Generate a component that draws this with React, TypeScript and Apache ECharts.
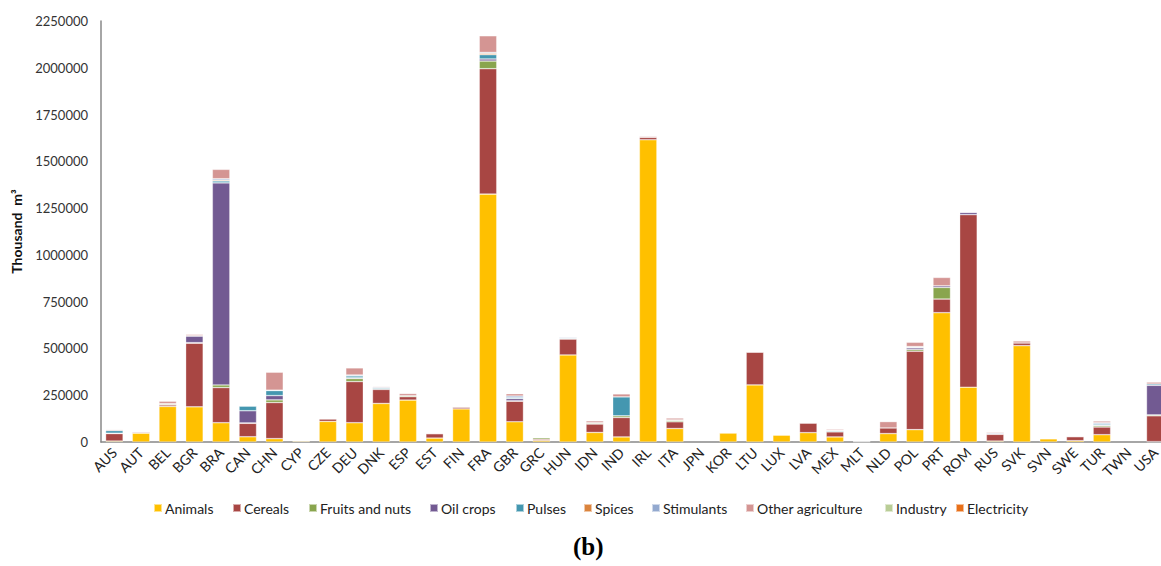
import React, { useEffect, useRef } from "react";
import * as echarts from "echarts";

const categories = ["AUS","AUT","BEL","BGR","BRA","CAN","CHN","CYP","CZE","DEU","DNK","ESP","EST","FIN","FRA","GBR","GRC","HUN","IDN","IND","IRL","ITA","JPN","KOR","LTU","LUX","LVA","MEX","MLT","NLD","POL","PRT","ROM","RUS","SVK","SVN","SWE","TUR","TWN","USA"];

const animals = [5000,47000,190000,188000,103000,28000,18000,5000,110000,103000,206000,224000,21000,177000,1325000,108000,8000,465000,51000,27000,1615000,72000,0,48000,305000,37000,50000,27000,2000,45000,66000,691000,293000,5000,515000,17000,7000,39000,0,2000];
const cereals = [40000,5000,8000,340000,188000,72000,193000,0,13000,220000,75000,18000,23000,9000,670000,110000,7000,85000,45000,104000,13000,36000,0,0,175000,0,51000,27000,0,30000,419000,73000,922000,36000,14000,2000,21000,41000,0,138000];
const fruits = [2000,0,5000,3000,14000,2000,14000,2000,0,16000,0,5000,0,0,41000,2000,8000,0,5000,9000,0,7000,0,0,0,0,0,0,0,0,9000,62000,0,0,0,0,0,7000,0,5000];
const oilCrops = [0,0,0,35000,1080000,65000,23000,0,0,4000,0,0,0,0,11000,12000,0,0,0,0,0,0,0,0,0,0,0,0,0,0,9000,8500,12000,0,0,0,0,4000,0,158000];
const pulses = [14000,0,0,2000,10000,25000,27000,0,0,10000,6000,0,0,0,23000,6000,0,4000,0,101000,0,0,0,0,0,0,0,5000,0,0,4000,0,0,3000,0,0,0,6000,0,7000];
const spices = [0,0,0,0,5000,0,0,0,0,0,0,0,0,0,7000,0,0,0,0,0,0,0,0,0,0,0,0,0,0,0,0,0,0,0,0,0,0,0,0,0];
const stimulants = [0,0,2000,0,7000,0,2000,0,0,5000,5000,0,0,0,5000,8000,3000,5000,2000,0,0,3000,0,3000,0,0,0,3000,0,0,3000,0,0,5000,0,0,0,6000,0,0];
const otherAgriculture = [5000,3000,13000,7000,50000,2000,96000,3000,2000,38000,4000,12000,4000,2000,89000,12000,3000,3000,10000,16000,5000,10000,0,2000,2000,1000,2000,6000,2000,34000,23000,45000,2000,5000,11000,2000,4000,9000,0,10000];
const industry = [0,0,0,0,0,0,0,0,0,0,0,0,0,0,0,0,1000,0,0,0,0,0,0,0,0,0,0,0,0,0,0,0,0,0,0,0,0,0,0,0];
const electricity = [0,0,0,0,0,0,0,0,0,0,0,0,0,0,0,0,0,0,0,0,0,0,0,0,0,0,0,0,0,0,0,0,0,0,0,0,0,0,0,0];

const seriesNames = ["Animals","Cereals","Fruits and nuts","Oil crops","Pulses","Spices","Stimulants","Other agriculture","Industry","Electricity"];
const seriesData = [animals, cereals, fruits, oilCrops, pulses, spices, stimulants, otherAgriculture, industry, electricity];
const colors = ["#FFC000","#A84643","#89A54E","#725A92","#4497B0","#DB843D","#93A9CF","#D49593","#B9CD96","#E8701A"];
const legendLeft = [153, 232, 308, 429, 515, 583, 651, 745, 884, 955];

export default function App() {
  const ref = useRef<HTMLDivElement>(null);
  useEffect(() => {
    document.body.style.margin = "0";
    const chart = echarts.init(ref.current!, null, { renderer: "svg" });
    const font = "Lato, 'Open Sans', sans-serif";
    chart.setOption({
      animation: false,
      grid: { left: 101, top: 21, width: 1067.6, height: 421, containLabel: false },
      legend: seriesNames.map((n, i) => ({
        data: [n],
        left: legendLeft[i],
        top: 501,
        icon: "rect",
        itemWidth: 8,
        itemHeight: 8,
        itemGap: 0,
        padding: 0,
        textStyle: { fontFamily: font, fontSize: 14, color: "#222", padding: [0, 0, 0, -2] },
      })),
      xAxis: {
        type: "category",
        data: categories,
        axisLine: { lineStyle: { color: "#888", width: 1.5 } },
        axisTick: { show: false },
        axisLabel: { rotate: 45, interval: 0, fontFamily: font, fontSize: 14, color: "#222", margin: 8 },
      },
      yAxis: {
        type: "value",
        min: 0,
        max: 2250000,
        interval: 250000,
        name: "Thousand  m³",
        nameLocation: "middle",
        nameRotate: 90,
        nameGap: 78,
        nameTextStyle: { fontFamily: font, fontSize: 14, fontWeight: "bold", color: "#111" },
        axisLine: { show: true, lineStyle: { color: "#888", width: 1.5 } },
        axisTick: { show: false },
        splitLine: { show: false },
        axisLabel: { fontFamily: font, fontSize: 13, color: "#333", margin: 13, formatter: (v: number) => String(v) },
      },
      series: seriesNames.map((n, i) => ({
        name: n,
        type: "bar",
        stack: "total",
        barWidth: 17.5,
        itemStyle: { color: colors[i], borderColor: "rgba(255,255,255,0.55)", borderWidth: 0.6 },
        data: seriesData[i].map((v) => (v === 0 ? null : v)),
      })),
      graphic: [
        {
          type: "text",
          left: 573,
          top: 534,
          style: { text: "(b)", font: "bold 25px 'Liberation Serif', serif", fill: "#000" },
        },
      ],
    });
    return () => chart.dispose();
  }, []);
  return (
    <div style={{ width: 1161, height: 566, overflow: "hidden", position: "relative", background: "#fff" }}>
      <div ref={ref} style={{ width: 1185, height: 566 }} />
    </div>
  );
}
